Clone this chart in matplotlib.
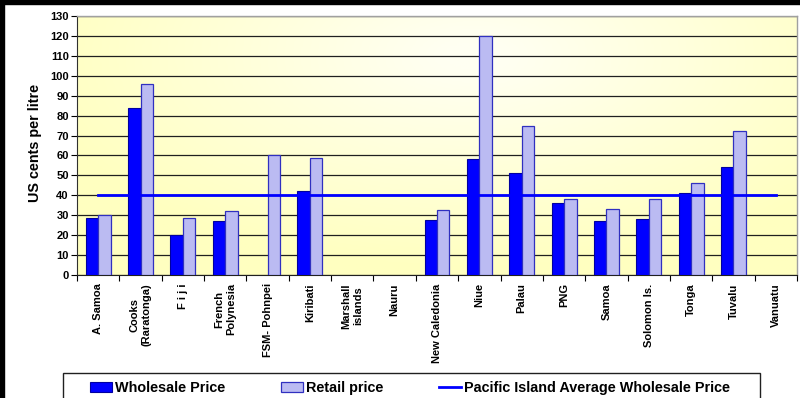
import numpy as np
import matplotlib
matplotlib.use('Agg')
import matplotlib.pyplot as plt
from matplotlib.patches import Rectangle, Patch
from matplotlib.lines import Line2D
from matplotlib.colors import LinearSegmentedColormap

plt.rcParams['font.family'] = ['Liberation Sans', 'DejaVu Sans']
plt.rcParams['font.weight'] = 'bold'

# ----------------------------
# Data (US cents per litre)
# ----------------------------
countries = ['A. Samoa', 'Cooks\n(Raratonga)', 'F i j i', 'French\nPolynesia',
             'FSM- Pohnpei', 'Kiribati', 'Marshall\nislands', 'Nauru',
             'New Caledonia', 'Niue', 'Palau', 'PNG', 'Samoa', 'Solomon Is.',
             'Tonga', 'Tuvalu', 'Vanuatu']
wholesale = [28.5, 84, 20, 27, np.nan, 42, np.nan, np.nan,
             27.5, 58, 51, 36, 27, 28, 41, 54, np.nan]
retail = [30, 96, 28.5, 32, 60, 58.5, np.nan, np.nan,
          32.5, 120, 75, 38, 33, 38, 46, 72.5, np.nan]
avg_wholesale = 40

# ----------------------------
# Figure and axes
# ----------------------------
fig = plt.figure(figsize=(8, 3.98), dpi=100)
ax = fig.add_axes([77/800, 1 - 275/398, 720/800, 259/398])

x = np.arange(len(countries))
bw = 0.295

# soft yellow gradient behind the bars
cmap = LinearSegmentedColormap.from_list('bg', ['#FFFFF2', '#FFFFC0'])
gx, gy = np.meshgrid(np.linspace(0, 1, 200), np.linspace(0, 1, 100))
dist = np.sqrt(((gx - 0.55) * 1.2) ** 2 + ((gy - 0.85) * 0.9) ** 2)
ax.imshow(dist, cmap=cmap, extent=[0, 1, 0, 1], transform=ax.transAxes,
          aspect='auto', origin='lower', zorder=0, vmin=0.05, vmax=0.75)

ax.bar(x - bw/2, wholesale, width=bw, color='#0000FF', edgecolor='#0000A0',
       linewidth=0.8, zorder=3)
ax.bar(x + bw/2, retail, width=bw, color='#BBBBF2', edgecolor='#3030C0',
       linewidth=0.9, zorder=3)
ax.plot(x, [avg_wholesale] * len(x), color='#0000FF', linewidth=2, zorder=4)

ax.set_xlim(-0.5, len(countries) - 0.5)
ax.set_ylim(0, 130)
ax.set_yticks(np.arange(0, 131, 10))
ax.yaxis.grid(True, color='#202020', linewidth=0.9, zorder=1)
ax.set_axisbelow(True)

ax.set_xticks(x)
ax.set_xticklabels(countries, rotation=90, ha='center', va='top',
                   multialignment='center', fontsize=8)
ax.set_xticks(np.arange(-0.5, len(countries)), minor=True)
ax.tick_params(axis='x', which='major', length=0, pad=6)
ax.tick_params(axis='x', which='minor', length=4, width=0.8, direction='out')
ax.tick_params(axis='y', labelsize=8, length=4, width=0.8, pad=2)

for side in ['top', 'right']:
    ax.spines[side].set_color('#A0A0A0')
    ax.spines[side].set_linewidth(1)
ax.spines['left'].set_color('#303030')
ax.spines['bottom'].set_color('#202020')

ax.set_ylabel('US cents per litre', fontsize=10.4, fontweight='bold')
ax.yaxis.set_label_coords(-0.049, (275 - 142.5) / 259)

# ----------------------------
# Legend in a box along the bottom
# ----------------------------
handles = [Patch(facecolor='#0000FF', edgecolor='#0000A0', linewidth=0.8),
           Patch(facecolor='#BBBBF2', edgecolor='#3030C0', linewidth=0.9),
           Line2D([0], [0], color='#0000FF', linewidth=2)]
labels = ['Wholesale Price', 'Retail price', 'Pacific Island Average Wholesale Price']
fig.legend(handles, labels, ncol=3, frameon=False, loc='center left',
           bbox_to_anchor=(90/800, 1 - 388/398), borderpad=0, borderaxespad=0,
           prop={'size': 10.4, 'weight': 'bold'}, handlelength=1.52,
           handleheight=0.62, handletextpad=0.2, columnspacing=3.86)
fig.add_artist(Rectangle((63/800, -0.1), (760 - 63)/800, 0.1 + 1 - 373/398,
                         transform=fig.transFigure, fill=False,
                         edgecolor='#202020', linewidth=1))

# black frame at top and left
fig.add_artist(Rectangle((0, 1 - 4/398), 1, 4/398, transform=fig.transFigure,
                         color='black', zorder=10))
fig.add_artist(Rectangle((0, 0), 4/800, 1, transform=fig.transFigure,
                         color='black', zorder=10))

fig.savefig('out.png', dpi=100)
